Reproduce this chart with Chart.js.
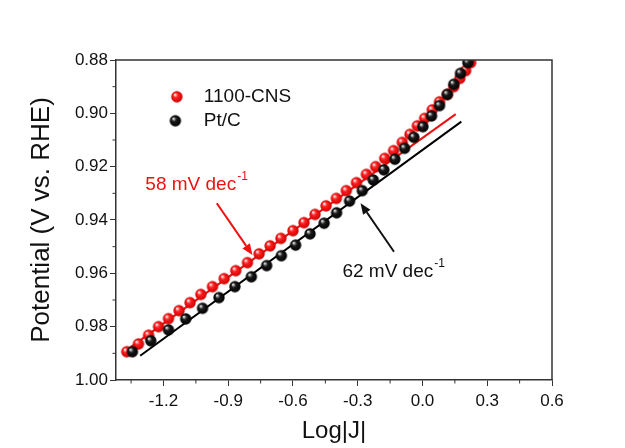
<!DOCTYPE html>
<html>
<head>
<meta charset="utf-8">
<script src="https://cdn.jsdelivr.net/npm/chart.js@4.4.1/dist/chart.umd.min.js"></script>
<style>
  html, body { margin: 0; padding: 0; background: #fff; }
  #wrap { width: 625px; height: 448px; }
</style>
</head>
<body>
<div id="wrap"><canvas id="myChart" width="625" height="448"></canvas></div>
<script>
// 1100-CNS data (Log|J| vs potential)
var cnsX = [-1.370,-1.316,-1.269,-1.223,-1.177,-1.128,-1.077,-1.027,-0.973,-0.919,-0.865,-0.811,-0.757,-0.706,-0.656,-0.600,-0.549,-0.498,-0.447,-0.399,-0.353,-0.306,-0.260,-0.217,-0.175,-0.134,-0.094,-0.058,-0.024,0.010,0.045,0.079,0.115,0.145,0.173,0.200,0.223];
var cnsY = [0.9894,0.9865,0.9832,0.9800,0.9770,0.9740,0.9710,0.9679,0.9650,0.9620,0.9590,0.9560,0.9527,0.9497,0.9469,0.9440,0.9410,0.9379,0.9347,0.9319,0.9290,0.9260,0.9229,0.9200,0.9169,0.9140,0.9109,0.9079,0.9047,0.9019,0.8987,0.8957,0.8929,0.8900,0.8869,0.8840,0.8810];

// Pt/C data
var ptcX = [-1.344,-1.259,-1.177,-1.097,-1.019,-0.943,-0.869,-0.793,-0.722,-0.654,-0.588,-0.521,-0.456,-0.398,-0.338,-0.279,-0.228,-0.179,-0.128,-0.083,-0.040,0.002,0.042,0.079,0.115,0.145,0.176,0.210];
var ptcY = [0.9894,0.9853,0.9812,0.9771,0.9731,0.9691,0.9650,0.9613,0.9571,0.9534,0.9494,0.9452,0.9412,0.9373,0.9329,0.9290,0.9250,0.9212,0.9172,0.9131,0.9090,0.9050,0.9010,0.8971,0.8929,0.8891,0.8850,0.8810];

// Tafel fit lines (end points)
var cnsFitX = [-1.37, 0.154];
var cnsFitY = [0.9887, 0.9003];
var ptcFitX = [-1.308, 0.180];
var ptcFitY = [0.9909, 0.9031];

var seriesNames = ["1100-CNS", "Pt/C"];
var slopeLabels = ["58 mV dec", "62 mV dec"];

var xTicks = [-1.2, -0.9, -0.6, -0.3, 0.0, 0.3, 0.6];
var yTicks = [0.88, 0.90, 0.92, 0.94, 0.96, 0.98, 1.00];
var xMinor = [-1.35, -1.05, -0.75, -0.45, -0.15, 0.15, 0.45];
var yMinor = [0.89, 0.91, 0.93, 0.95, 0.97, 0.99];

var FONT = "'Liberation Sans', Arial, sans-serif";
var RED = "#ee1111";

function pts(xs, ys){
  var out = [];
  for (var i = 0; i < xs.length; i++) out.push({x: xs[i], y: ys[i]});
  return out;
}

// shiny ball marker
function makeBall(base, light, dark, r){
  var c = document.createElement("canvas");
  var s = Math.ceil(r*2) + 2;
  c.width = s; c.height = s;
  var g = c.getContext("2d");
  var cx = s/2, cy = s/2;
  var grad = g.createRadialGradient(cx - r*0.35, cy - r*0.4, r*0.1, cx, cy, r);
  grad.addColorStop(0, light);
  grad.addColorStop(0.35, base);
  grad.addColorStop(1, dark);
  g.fillStyle = grad;
  g.beginPath();
  g.arc(cx, cy, r, 0, Math.PI*2);
  g.fill();
  return c;
}
var redBall = makeBall("#ff2020", "#ffe0e0", "#cc0000", 5.7);
var blackBall = makeBall("#1a1a1a", "#d8d8d8", "#000000", 5.7);

var framePlugin = {
  id: "frame",
  afterDraw: function(chart){
    var ctx = chart.ctx, a = chart.chartArea;
    var xs = chart.scales.x, ys = chart.scales.y;
    ctx.save();
    ctx.strokeStyle = "#333";
    ctx.lineWidth = 1.5;
    ctx.beginPath();
    ctx.moveTo(a.left, a.top); ctx.lineTo(a.right, a.top); ctx.lineTo(a.right, a.bottom);
    ctx.stroke();
    // minor ticks
    ctx.lineWidth = 1;
    ctx.beginPath();
    xMinor.forEach(function(v){
      var p = xs.getPixelForValue(v);
      ctx.moveTo(p, a.bottom); ctx.lineTo(p, a.bottom + 3.5);
    });
    yMinor.forEach(function(v){
      var p = ys.getPixelForValue(v);
      ctx.moveTo(a.left, p); ctx.lineTo(a.left - 3.5, p);
    });
    ctx.stroke();
    ctx.restore();
  }
};

function arrow(ctx, x1, y1, x2, y2, color){
  var ang = Math.atan2(y2 - y1, x2 - x1);
  var hl = 11, hw = 4.5;
  var bx = x2 - hl*Math.cos(ang), by = y2 - hl*Math.sin(ang);
  ctx.strokeStyle = color; ctx.fillStyle = color; ctx.lineWidth = 2;
  ctx.beginPath(); ctx.moveTo(x1, y1); ctx.lineTo(bx, by); ctx.stroke();
  ctx.beginPath();
  ctx.moveTo(x2, y2);
  ctx.lineTo(bx + hw*Math.sin(ang), by - hw*Math.cos(ang));
  ctx.lineTo(bx - hw*Math.sin(ang), by + hw*Math.cos(ang));
  ctx.closePath(); ctx.fill();
}

function supText(ctx, x, y, txt, color){
  ctx.fillStyle = color;
  ctx.textBaseline = "middle";
  ctx.textAlign = "left";
  ctx.font = "19px " + FONT;
  ctx.fillText(txt, x, y);
  var w = ctx.measureText(txt).width;
  ctx.font = "12px " + FONT;
  ctx.fillText("-1", x + w + 1, y - 8);
}

var notesPlugin = {
  id: "notes",
  afterDraw: function(chart){
    var ctx = chart.ctx;
    var xs = chart.scales.x, ys = chart.scales.y;
    function X(v){ return xs.getPixelForValue(v); }
    function Y(v){ return ys.getPixelForValue(v); }
    ctx.save();
    // legend
    ctx.drawImage(redBall, X(-1.138) - redBall.width/2, Y(0.8938) - redBall.height/2);
    ctx.drawImage(blackBall, X(-1.145) - blackBall.width/2, Y(0.9028) - blackBall.height/2);
    ctx.fillStyle = "#111";
    ctx.font = "19px " + FONT;
    ctx.textBaseline = "middle";
    ctx.fillText(seriesNames[0], X(-1.013), Y(0.8938));
    ctx.fillText(seriesNames[1], X(-1.013), Y(0.9028));
    // slope labels and arrows
    supText(ctx, X(-1.284), Y(0.9269), slopeLabels[0], RED);
    supText(ctx, X(-0.371), Y(0.9595), slopeLabels[1], "#111");
    arrow(ctx, X(-0.953), Y(0.9337), X(-0.788), Y(0.9531), RED);
    arrow(ctx, X(-0.132), Y(0.9519), X(-0.287), Y(0.9337), "#111");
    ctx.restore();
  }
};

var ctx = document.getElementById("myChart").getContext("2d");
var chart = new Chart(ctx, {
  type: "scatter",
  data: {
    datasets: [
      {
        label: seriesNames[1],
        data: pts(ptcX, ptcY),
        pointStyle: blackBall,
        order: 0
      },
      {
        label: seriesNames[0],
        data: pts(cnsX, cnsY),
        pointStyle: redBall,
        order: 1
      },
      {
        label: "Pt/C fit",
        data: pts(ptcFitX, ptcFitY),
        showLine: true,
        borderColor: "#000",
        borderWidth: 2,
        pointRadius: 0,
        order: 2
      },
      {
        label: "1100-CNS fit",
        data: pts(cnsFitX, cnsFitY),
        showLine: true,
        borderColor: RED,
        borderWidth: 2,
        pointRadius: 0,
        order: 3
      }
    ]
  },
  options: {
    responsive: false,
    animation: false,
    devicePixelRatio: 1,
    layout: { padding: { top: 60, right: 73, left: 0, bottom: 0 } },
    plugins: {
      legend: { display: false },
      tooltip: { enabled: false }
    },
    scales: {
      x: {
        type: "linear",
        min: -1.42,
        max: 0.6,
        afterBuildTicks: function(s){ s.ticks = xTicks.map(function(v){ return {value: v}; }); },
        afterFit: function(s){ s.height = 68; },
        border: { color: "#333", width: 1.5 },
        grid: { drawOnChartArea: false, tickLength: 6, tickColor: "#333", tickWidth: 1 },
        ticks: {
          color: "#111",
          padding: 5,
          maxRotation: 0,
          font: { family: FONT, size: 17 },
          callback: function(v){ return Number(v).toFixed(1); }
        },
        title: {
          display: true,
          text: "Log|J|",
          color: "#111",
          padding: { top: 0, bottom: 2 },
          font: { family: FONT, size: 24 }
        }
      },
      y: {
        type: "linear",
        reverse: true,
        min: 0.88,
        max: 1.00,
        afterBuildTicks: function(s){ s.ticks = yTicks.map(function(v){ return {value: v}; }); },
        afterFit: function(s){ s.width = 116; },
        border: { color: "#333", width: 1.5 },
        grid: { drawOnChartArea: false, tickLength: 6, tickColor: "#333", tickWidth: 1 },
        ticks: {
          color: "#111",
          padding: 2,
          font: { family: FONT, size: 17 },
          callback: function(v){ return Number(v).toFixed(2); }
        },
        title: {
          display: true,
          text: "Potential (V vs. RHE)",
          color: "#111",
          padding: { top: 26, bottom: 0 },
          font: { family: FONT, size: 26 }
        }
      }
    }
  },
  plugins: [framePlugin, notesPlugin]
});
</script>
</body>
</html>
